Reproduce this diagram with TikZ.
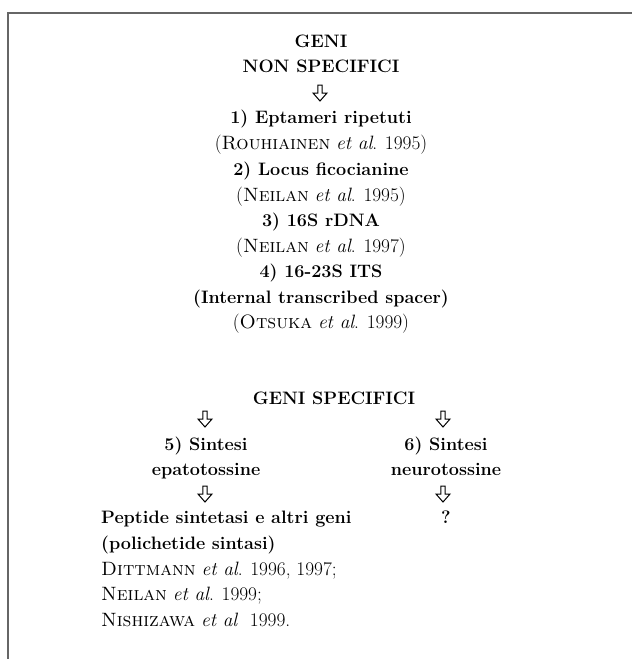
\documentclass[tikz,border=0pt]{standalone}
\usepackage{fontspec}
\begin{document}
\begin{tikzpicture}[x=1pt,y=-1pt,
  bt/.style={font=\bfseries\fontsize{18}{26}\selectfont, inner sep=0pt, anchor=base},
  rt/.style={font=\fontsize{19.3}{26}\selectfont, inner sep=0pt, anchor=base},
  lt/.style={font=\fontsize{19.3}{26}\selectfont, inner sep=0pt, anchor=base west},
  lbt/.style={font=\bfseries\fontsize{18}{26}\selectfont, inner sep=0pt, anchor=base west},
  frame/.style={draw=black!60, line width=1.5pt},
  openarrow/.pic={\draw[line width=1pt, line join=miter, fill=white]
     (-2.2,-8) -- (2.2,-8) -- (2.2,0) -- (7,0) -- (0,8) -- (-7,0) -- (-2.2,0) -- cycle;}]
\useasboundingbox (0,0) rectangle (632,659);
\draw[frame] (632,13) -- (8,13) -- (8,659);
% top column
\node[bt] (g1) at (321,47) {GENI};
\node[bt] (g2) at (321,72) {NON SPECIFICI};
\pic at (320,93) {openarrow};
\node[bt] (a1) at (321,123) {1) Eptameri ripetuti};
\node[rt] (r1) at (321,149) {(\textsc{Rouhiainen} \textit{et al}. 1995)};
\node[bt] (a2) at (321,175) {2) Locus ficocianine};
\node[rt] (r2) at (321,201) {(\textsc{Neilan} \textit{et al}. 1995)};
\node[bt] (a3) at (321,226) {3) 16S rDNA};
\node[rt] (r3) at (321,252) {(\textsc{Neilan} \textit{et al}. 1997)};
\node[bt] (a4) at (321,277) {4) 16-23S ITS};
\node[bt] (a4b) at (321,303) {(Internal transcribed spacer)};
\node[rt] (r4) at (321,328) {(\textsc{Otsuka} \textit{et al}. 1999)};
% specific
\node[bt] (gs) at (334,404) {GENI SPECIFICI};
\pic at (205,419) {openarrow};
\pic at (443,419) {openarrow};
\node[bt] (s5) at (206,450) {5) Sintesi};
\node[bt] (s5b) at (206,475) {epatotossine};
\node[bt] (s6) at (446,450) {6) Sintesi};
\node[bt] (s6b) at (446,475) {neurotossine};
\pic at (205,494) {openarrow};
\pic at (443,494) {openarrow};
\node[lbt] (p1) at (101,523) {Peptide sintetasi e altri geni};
\node[bt] (q) at (446,523) {?};
\node[lbt] (p2) at (101,549) {(polichetide sintasi)};
\node[lt] (c1) at (101,575) {\textsc{Dittmann} \textit{et al}. 1996, 1997;};
\node[lt] (c2) at (101,600) {\textsc{Neilan} \textit{et al}. 1999;};
\node[lt] (c3) at (101,626) {\textsc{Nishizawa} \textit{et al}\ \ 1999.};
\end{tikzpicture}
\end{document}
